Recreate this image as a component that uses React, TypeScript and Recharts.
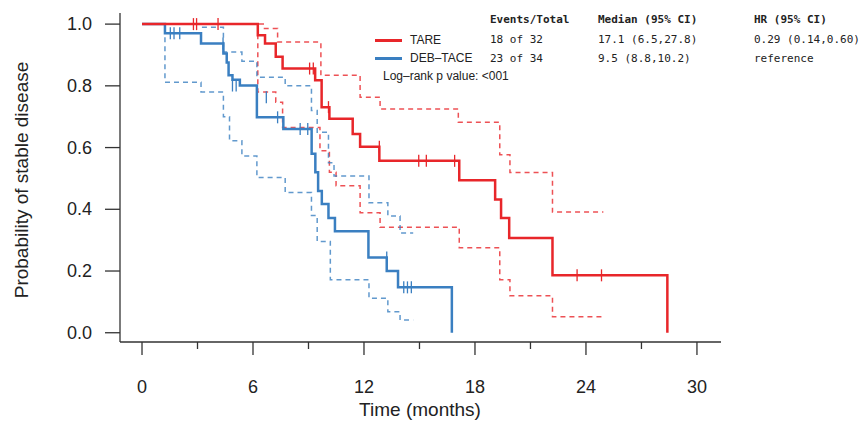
import React from "react";
import { ComposedChart, Line, Scatter, XAxis, YAxis } from "recharts";

const tareT = [0, 6.26, 6.65, 7.23, 7.6, 9.36, 9.71, 10.13, 11.39, 11.79, 12.83, 17.15, 19.09, 19.41, 19.85, 22.19, 28.4];
const tareS = [1, 0.964, 0.937, 0.894, 0.856, 0.818, 0.731, 0.693, 0.644, 0.603, 0.557, 0.494, 0.432, 0.372, 0.307, 0.186, 0];
const tareUpT = [0, 6.62, 7.33, 9.67, 11.79, 12.87, 17.1, 19.34, 19.89, 22.19, 24.94];
const tareUpS = [1, 0.986, 0.942, 0.834, 0.763, 0.725, 0.682, 0.577, 0.519, 0.391, 0.391];
const tareLoT = [0, 6.26, 7.23, 7.6, 9.62, 10.13, 10.49, 11.79, 12.87, 17.15, 19.34, 19.89, 22.19, 24.94];
const tareLoS = [1, 0.78, 0.747, 0.665, 0.59, 0.52, 0.476, 0.389, 0.342, 0.275, 0.172, 0.12, 0.052, 0.052];
const tareCensT = [2.78, 2.95, 4.11, 9.06, 9.26, 10.08, 12.83, 14.96, 15.37, 16.9, 23.52, 24.84];
const tareCensS = [1, 1, 1, 0.856, 0.856, 0.731, 0.603, 0.557, 0.557, 0.557, 0.186, 0.186];

const debT = [0, 1.24, 3.19, 4.4, 4.58, 4.68, 4.89, 5.29, 6.21, 6.21, 7.64, 9.17, 9.37, 9.52, 9.72, 10.08, 10.43, 12.24, 13.23, 13.84, 16.75];
const debS = [1, 0.97, 0.937, 0.905, 0.876, 0.834, 0.82, 0.801, 0.763, 0.698, 0.66, 0.58, 0.52, 0.459, 0.417, 0.372, 0.329, 0.244, 0.2, 0.147, 0];
const debUpT = [0, 3.19, 4.4, 5.4, 6.21, 7.74, 9.16, 9.47, 10.08, 10.38, 12.27, 13.29, 13.95, 14.66];
const debUpS = [1, 0.99, 0.91, 0.88, 0.828, 0.8, 0.72, 0.65, 0.551, 0.508, 0.421, 0.378, 0.323, 0.323];
const debLoT = [0, 1.24, 3.19, 4.4, 4.73, 5.4, 6.21, 7.74, 9.16, 9.47, 10.18, 12.27, 13.29, 13.95, 14.66];
const debLoS = [1, 0.812, 0.78, 0.7, 0.622, 0.573, 0.503, 0.454, 0.38, 0.296, 0.172, 0.112, 0.068, 0.041, 0.041];
const debCensT = [1.53, 1.73, 2.04, 4.38, 4.89, 5.09, 6.72, 7.33, 8.55, 8.96, 13.23, 14.15, 14.35, 14.56];
const debCensS = [0.97, 0.97, 0.97, 0.937, 0.801, 0.801, 0.763, 0.698, 0.66, 0.66, 0.244, 0.147, 0.147, 0.147];

const xTicks = [0, 3, 6, 9, 12, 15, 18, 21, 24, 27, 30];
const xLabeled = [0, 6, 12, 18, 24, 30];
const yTicks = [0, 0.2, 0.4, 0.6, 0.8, 1.0];

const zip = (t: number[], s: number[]) => t.map((v, i) => ({ t: v, s: s[i] }));
const RED = "#e8262a";
const BLUE = "#3a7fc1";
const XMIN = -1.19, XMAX = 31.3, YMIN = -0.03, YMAX = 1.036;

const Tick = (color: string) => (p: any) => (
  <line x1={p.cx} x2={p.cx} y1={p.cy - 6} y2={p.cy + 6} stroke={color} strokeWidth={1.3} />
);

const XTick = (p: any) => {
  const v = p.payload.value;
  const major = xLabeled.includes(v);
  return (
    <g>
      <line x1={p.x} x2={p.x} y1={p.y} y2={p.y + (major ? 13 : 7)} stroke="#333" strokeWidth={1.3} />
      {major && <text x={p.x} y={p.y + 45} textAnchor="middle" dominantBaseline="central" fontSize={18} fill="#222">{v}</text>}
    </g>
  );
};
const YTick = (p: any) => (
  <g>
    <line x1={p.x - 15} x2={p.x} y1={p.y} y2={p.y} stroke="#333" strokeWidth={1.3} />
    <text x={p.x - 28} y={p.y} textAnchor="end" dominantBaseline="central" fontSize={18} fill="#222">{Number(p.payload.value).toFixed(1)}</text>
  </g>
);

const mono: React.CSSProperties = { position: "absolute", fontFamily: "DejaVu Sans Mono", fontSize: 11, color: "#222", whiteSpace: "pre" };

export default function App() {
  return (
    <div style={{ position: "relative", width: 860, height: 419, fontFamily: "Liberation Sans, Arial, sans-serif" }}>
      <ComposedChart width={860} height={419} margin={{ top: 5, right: 147, bottom: 55, left: 52 }}>
        <XAxis type="number" dataKey="t" domain={[XMIN, XMAX]} ticks={xTicks} axisLine={{ stroke: "#333", strokeWidth: 1.3 }}
          tick={XTick} tickLine={false} tickSize={0} tickMargin={0} height={30} interval={0} />
        <YAxis type="number" dataKey="s" domain={[YMIN, YMAX]} ticks={yTicks} axisLine={{ stroke: "#333", strokeWidth: 1.3 }} width={60}
          tick={YTick} tickLine={false} tickSize={0} tickMargin={0} interval={0} />
        <Line data={zip(tareUpT, tareUpS)} dataKey="s" type="stepAfter" stroke={RED} strokeOpacity={0.8} strokeWidth={1.5} strokeDasharray="5 4" dot={false} isAnimationActive={false} />
        <Line data={zip(tareLoT, tareLoS)} dataKey="s" type="stepAfter" stroke={RED} strokeOpacity={0.8} strokeWidth={1.5} strokeDasharray="5 4" dot={false} isAnimationActive={false} />
        <Line data={zip(debUpT, debUpS)} dataKey="s" type="stepAfter" stroke={BLUE} strokeOpacity={0.8} strokeWidth={1.5} strokeDasharray="5 4" dot={false} isAnimationActive={false} />
        <Line data={zip(debLoT, debLoS)} dataKey="s" type="stepAfter" stroke={BLUE} strokeOpacity={0.8} strokeWidth={1.5} strokeDasharray="5 4" dot={false} isAnimationActive={false} />
        <Line data={zip(debT, debS)} dataKey="s" type="stepAfter" stroke={BLUE} strokeWidth={2.5} dot={false} isAnimationActive={false} />
        <Line data={zip(tareT, tareS)} dataKey="s" type="stepAfter" stroke={RED} strokeWidth={2.5} dot={false} isAnimationActive={false} />
        <Scatter data={zip(tareCensT, tareCensS)} dataKey="s" shape={Tick(RED)} isAnimationActive={false} />
        <Scatter data={zip(debCensT, debCensS)} dataKey="s" shape={Tick(BLUE)} isAnimationActive={false} />
      </ComposedChart>
      <div style={{ position: "absolute", left: 0, top: 172, width: 30, height: 0 }}>
        <div style={{ position: "absolute", left: 14, top: 0, transform: "translate(-50%,-50%) rotate(-90deg)", whiteSpace: "nowrap", fontSize: 19, color: "#222" }}>Probability of stable disease</div>
      </div>
      <div style={{ position: "absolute", left: 412, top: 402, transform: "translate(-50%,-50%)", whiteSpace: "nowrap", fontSize: 19, color: "#222" }}>Time (months)</div>
      <div style={{ position: "absolute", left: 367, top: 31, width: 27, height: 3, background: RED }} />
      <div style={{ position: "absolute", left: 367, top: 49, width: 27, height: 3, background: BLUE }} />
      <div style={{ position: "absolute", left: 402, top: 25, fontSize: 12, color: "#222" }}>TARE</div>
      <div style={{ position: "absolute", left: 402, top: 43, fontSize: 12, color: "#222" }}>DEB–TACE</div>
      <div style={{ position: "absolute", left: 375, top: 61, fontSize: 12, color: "#222" }}>Log–rank p value: &lt;001</div>
      <div style={{ ...mono, left: 482, top: 5, fontWeight: "bold" }}>Events/Total</div>
      <div style={{ ...mono, left: 482, top: 25 }}>18 of 32</div>
      <div style={{ ...mono, left: 482, top: 44 }}>23 of 34</div>
      <div style={{ ...mono, left: 590, top: 5, fontWeight: "bold" }}>Median (95% CI)</div>
      <div style={{ ...mono, left: 590, top: 25 }}>17.1 (6.5,27.8)</div>
      <div style={{ ...mono, left: 590, top: 44 }}>9.5 (8.8,10.2)</div>
      <div style={{ ...mono, left: 746, top: 5, fontWeight: "bold" }}>HR (95% CI)</div>
      <div style={{ ...mono, left: 746, top: 25 }}>0.29 (0.14,0.60)</div>
      <div style={{ ...mono, left: 746, top: 44 }}>reference</div>
    </div>
  );
}
